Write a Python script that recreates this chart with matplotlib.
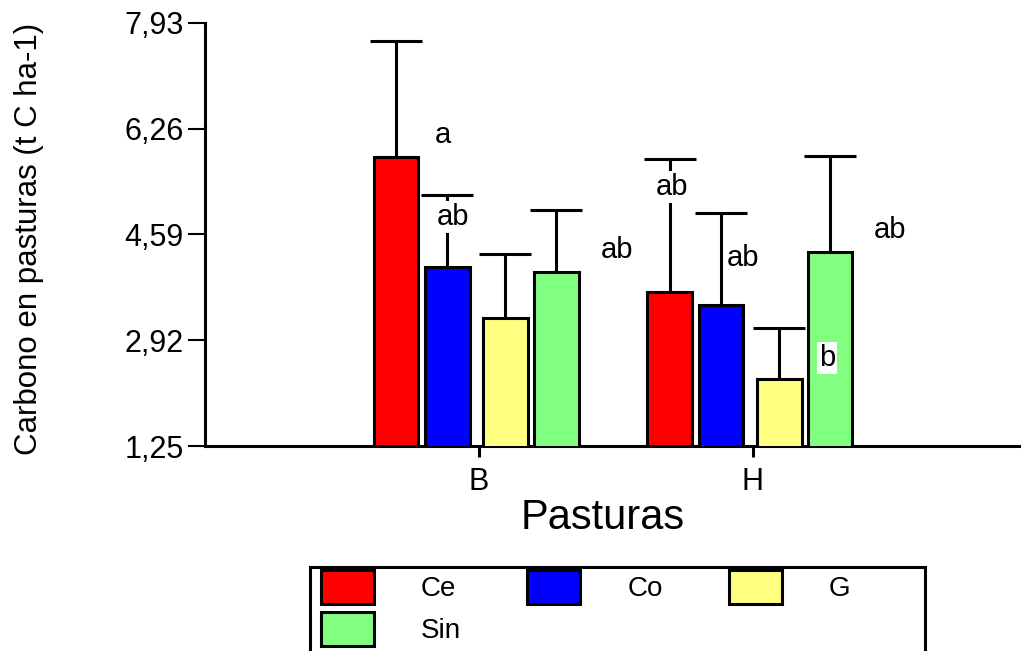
import numpy as np
import matplotlib.pyplot as plt
from matplotlib.patches import Rectangle

plt.rcParams['font.family'] = ['Liberation Sans', 'DejaVu Sans']

# datos
pasturas = ['B', 'H']
tratamientos = ['Ce', 'Co', 'G', 'Sin']
colores = ['#ff0000', '#0000ff', '#ffff80', '#80ff80']

media_ce = [5.82, 3.68]
media_co = [4.08, 3.48]
media_g = [3.27, 2.31]
media_sin = [4.00, 4.31]

err_ce = [1.83, 2.10]
err_co = [1.14, 1.45]
err_g = [1.01, 0.80]
err_sin = [0.98, 1.52]

y_ticks = [1.25, 2.92, 4.59, 6.26, 7.93]
y_tick_labels = ['1,25', '2,92', '4,59', '6,26', '7,93']

letras = ['a', 'ab', 'ab', 'ab', 'ab', 'ab', 'b']

medias = [media_ce, media_co, media_g, media_sin]
errores = [err_ce, err_co, err_g, err_sin]

# layout
offsets = [-0.303, -0.115, 0.097, 0.283]
ancho = 0.163
# posicion de cada letra (x, y) y si lleva fondo blanco
pos_letras = [(0.869, 6.16, False), (0.906, 4.87, True), (1.505, 4.35, False),
              (1.706, 5.34, True), (1.965, 4.22, True), (2.502, 4.66, False),
              (2.272, 2.64, True)]

W, H = 1021, 651
fig = plt.figure(figsize=(W / 100, H / 100), dpi=100)
ax = fig.add_axes([205 / W, 1 - 446 / H, 816 / W, 423 / H])

x = np.arange(1, len(pasturas) + 1)
handles = []
for i, (nombre, vals, errs) in enumerate(zip(tratamientos, medias, errores)):
    b = ax.bar(x + offsets[i], vals, width=ancho, color=colores[i],
               edgecolor='black', linewidth=2.2, label=nombre, zorder=2 * i + 1)
    handles.append(b)
    eb = ax.errorbar(x + offsets[i], vals, yerr=[np.zeros(len(vals)), errs],
                     fmt='none', ecolor='black', elinewidth=2.2, capsize=19,
                     capthick=2.2, zorder=2 * i + 2)
    eb[1][0].set_visible(False)  # sin tapa inferior

for s, (lx, ly, blanco) in zip(letras, pos_letras):
    kw = {}
    if blanco:
        kw['bbox'] = dict(facecolor='white', edgecolor='none', pad=1.5)
    ax.text(lx, ly, s, ha='center', va='center', fontsize=21, zorder=20, **kw)

ax.set_xlim(0, 2.98)
ax.set_ylim(1.25, 7.93)
ax.set_yticks(y_ticks)
ax.set_yticklabels(y_tick_labels)
ax.set_xticks(x)
ax.set_xticklabels(pasturas)

for side in ['top', 'right']:
    ax.spines[side].set_visible(False)
for side in ['left', 'bottom']:
    ax.spines[side].set_linewidth(2.2)
    ax.spines[side].set_clip_on(False)

ax.tick_params(axis='y', direction='out', length=12, width=1.5, pad=3.5, labelsize=22)
ax.tick_params(axis='x', direction='out', length=8, width=2.2, pad=7, labelsize=22)

ax.set_xlabel('Pasturas', fontsize=30)
ax.xaxis.set_label_coords((603 - 205) / 816, (446 - 498) / 423)
ax.set_ylabel('Carbono en pasturas (t C ha-1)', fontsize=22.5)
ax.yaxis.set_label_coords((44 - 205) / 816, 0.49)

# leyenda en filas: Ce Co G / Sin
orden = [0, 3, 1, 2]
fig.legend([handles[k] for k in orden], [tratamientos[k] for k in orden],
           ncol=3, loc='upper left', bbox_to_anchor=(321 / W, 1 - 570 / H),
           frameon=False, borderpad=0, borderaxespad=0, fontsize=20,
           handlelength=1.9, handleheight=1.5, handletextpad=1.7,
           columnspacing=2.38, labelspacing=0.3)
fig.add_artist(Rectangle((310 / W, -0.05), (925 - 310) / W, (651 - 567) / H + 0.05,
                         transform=fig.transFigure, fill=False, edgecolor='black',
                         linewidth=2.2))

fig.savefig('out.png', dpi=100)
